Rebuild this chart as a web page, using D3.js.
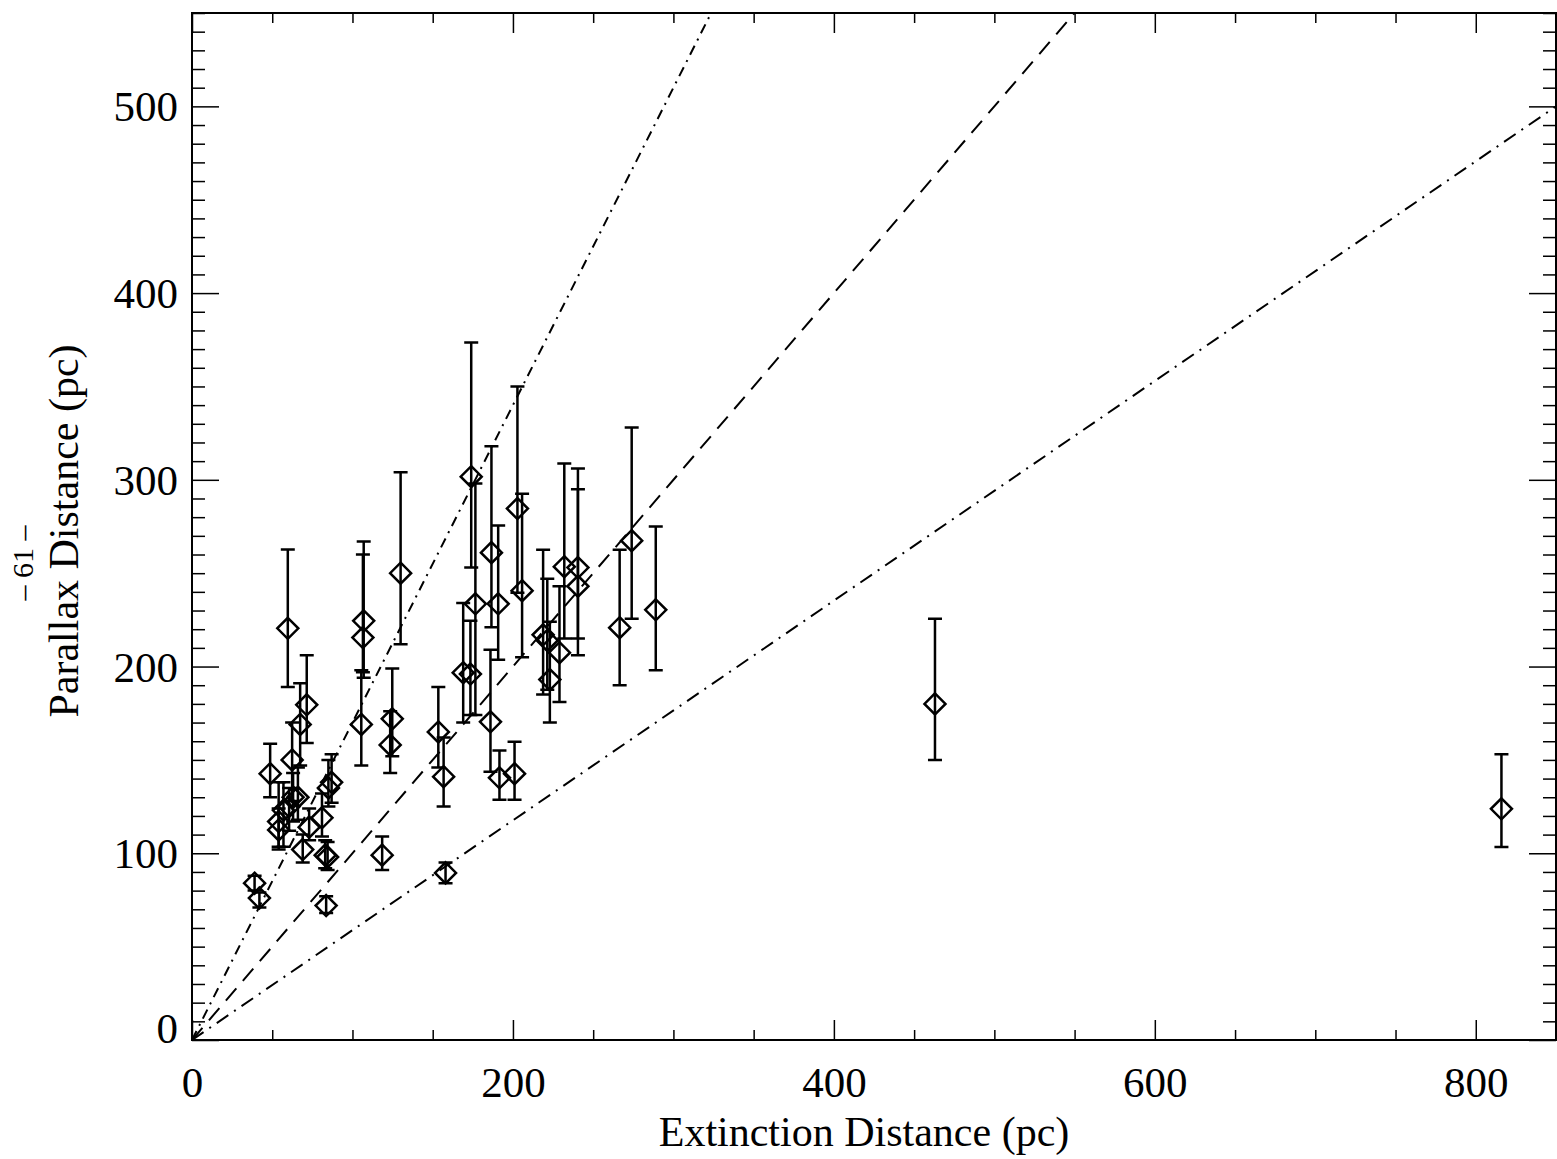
<!DOCTYPE html>
<html>
<head>
<meta charset="utf-8">
<style>
body { margin: 0; background: #fff; }
text { font-family: "Liberation Serif", "Times New Roman", serif; fill: #000; }
.tick line { stroke: #000; stroke-width: 1.5; }
</style>
</head>
<body>
<svg width="1557" height="1159"></svg>
<script src="https://d3js.org/d3.v7.min.js"></script>
<script>
// extinction distance (pc), parallax distance (pc), and parallax error bar ends
var extDist = [39, 42, 83.6, 48.7, 59.7, 71.5, 67.4, 62.4, 63, 66, 57, 54, 54, 60.5, 73, 69, 81, 87, 85, 83, 84.5,
  107, 106.5, 130, 105.5, 124.8, 123.5, 118.5, 153.5, 156.8, 158,
  174, 176.6, 186.6, 190.8, 202.8, 205.7, 169, 173.5, 186, 191.6, 201,
  218.8, 221.4, 223, 229, 232, 240.5, 240.5, 266.5, 274, 289, 463, 816];
var parDist = [84, 76, 72, 142.6, 220.5, 179.5, 169, 150, 130, 130, 123, 117, 112.5, 125, 114, 102, 119, 138, 135, 99, 98,
  224.5, 215.5, 250, 169, 172, 158, 99, 165, 141, 89.5,
  301.7, 233.6, 261, 233.6, 284.6, 240.6, 196.7, 196, 170.4, 140.4, 142.6,
  217, 214, 193, 207.4, 253.5, 253, 243, 220.8, 267.4, 230.4, 180, 123.8];
var parLow = [80, 71, 68, 130, 189, 159, 147, 128, 117, 118, 103.5, 102, 103.5, 112, 107, 95, 109, 127, 125, 92, 91,
  194, 197, 212, 147, 152, 143, 91, 146, 125, 84,
  253, 174, 221, 203.6, 239.5, 205, 170, 174, 143.6, 128.6, 128.6,
  185, 187.6, 170, 181, 215, 206, 215, 190, 225.6, 198, 150, 103.4];
var parHigh = [88, 79, 77, 158.6, 262.7, 206, 191, 170, 143, 146, 138, 138, 124, 135, 124, 110, 132, 153, 150, 107, 106,
  267, 260, 304, 198, 199, 176, 109, 189, 162, 95,
  373.5, 298, 318, 275.5, 350, 292.6, 234, 224.5, 209, 155, 159.7,
  262.6, 247, 224, 243, 308.7, 306, 295, 262.6, 328, 275, 225.6, 153];

// reference lines y = k * x
var lineSlopes = [1.7, 1, 1 / 1.7];
var lineDashes = ["10,6,2,6", "16,10", "14,7,2,7"];

var xMajor = [0, 200, 400, 600, 800];
var yMajor = [0, 100, 200, 300, 400, 500];
var xTitle = "Extinction Distance (pc)";
var yTitle = "Parallax Distance (pc)";
var pageNum = "\u2013 61 \u2013";

var svg = d3.select("svg");
var pLeft = 192, pRight = 1556, pTop = 13, pBottom = 1040;

var x = d3.scaleLinear().domain([0, 850]).range([pLeft, pRight]);
var y = d3.scaleLinear().domain([0, 550]).range([pBottom, pTop]);

var xMinor = d3.range(0, 851, 50).filter(function(v) { return v % 200 != 0; });
var yMinor = d3.range(0, 551, 10).filter(function(v) { return v % 100 != 0; });

svg.append("defs").append("clipPath").attr("id", "plot")
  .append("rect").attr("x", pLeft).attr("y", pTop)
  .attr("width", pRight - pLeft).attr("height", pBottom - pTop);

// ticks: all point inward
function ticks(axis, tr, vals, size, labels) {
  var g = svg.append("g").attr("transform", tr)
    .call(axis.tickValues(vals).tickSize(size).tickFormat(labels ? d3.format("d") : ""));
  g.select(".domain").remove();
  return g;
}

var bx = ticks(d3.axisBottom(x), "translate(0," + pBottom + ")", xMajor, -20, true);
ticks(d3.axisBottom(x), "translate(0," + pBottom + ")", xMinor, -10, false);
ticks(d3.axisTop(x), "translate(0," + pTop + ")", xMajor, -20, false);
ticks(d3.axisTop(x), "translate(0," + pTop + ")", xMinor, -10, false);
var ly = ticks(d3.axisLeft(y), "translate(" + pLeft + ",0)", yMajor, -27, true);
ticks(d3.axisLeft(y), "translate(" + pLeft + ",0)", yMinor, -13, false);
ticks(d3.axisRight(y), "translate(" + pRight + ",0)", yMajor, -27, false);
ticks(d3.axisRight(y), "translate(" + pRight + ",0)", yMinor, -13, false);

bx.selectAll("text").attr("font-size", 43).attr("y", 57).attr("dy", null)
  .style("font-family", "Liberation Serif");
ly.selectAll("text").attr("font-size", 43).attr("x", -14)
  .attr("dy", function(d) { return d == 0 ? "0.05em" : "0.34em"; })
  .style("font-family", "Liberation Serif");

// frame
svg.append("rect").attr("x", pLeft).attr("y", pTop)
  .attr("width", pRight - pLeft).attr("height", pBottom - pTop)
  .attr("fill", "none").attr("stroke", "#000").attr("stroke-width", 2);

// reference lines
svg.append("g").attr("clip-path", "url(#plot)")
  .selectAll("line").data(lineSlopes).enter().append("line")
  .attr("x1", x(0)).attr("y1", y(0))
  .attr("x2", x(850)).attr("y2", function(k) { return y(850 * k); })
  .attr("stroke", "#000").attr("stroke-width", 2)
  .attr("stroke-dasharray", function(k, i) { return lineDashes[i]; });

// error bars
var pts = d3.range(extDist.length);
var eb = svg.append("g").attr("stroke", "#000").attr("stroke-width", 2.5).attr("fill", "none");
eb.selectAll("path").data(pts).enter().append("path")
  .attr("d", function(i) {
    var cx = x(extDist[i]), y1 = y(parLow[i]), y2 = y(parHigh[i]), w = 7;
    return "M" + cx + "," + y1 + "V" + y2 +
      "M" + (cx - w) + "," + y1 + "H" + (cx + w) +
      "M" + (cx - w) + "," + y2 + "H" + (cx + w);
  });

// diamonds
svg.append("g").selectAll("path").data(pts).enter().append("path")
  .attr("d", function(i) {
    var cx = x(extDist[i]), cy = y(parDist[i]), r = 10.5;
    return "M" + cx + "," + (cy - r) + "L" + (cx + r) + "," + cy +
      "L" + cx + "," + (cy + r) + "L" + (cx - r) + "," + cy + "Z";
  })
  .attr("fill", "none").attr("stroke", "#000").attr("stroke-width", 2.5);

// titles
svg.append("text").attr("x", (pLeft + pRight) / 2 - 10).attr("y", 1146)
  .attr("text-anchor", "middle").attr("font-size", 42).text(xTitle);
svg.append("text").attr("transform", "translate(78,531) rotate(-90)")
  .attr("text-anchor", "middle").attr("font-size", 42).text(yTitle);
svg.append("text").attr("transform", "translate(33,563) rotate(-90)")
  .attr("text-anchor", "middle").attr("font-size", 30).text(pageNum);
</script>
</body>
</html>
